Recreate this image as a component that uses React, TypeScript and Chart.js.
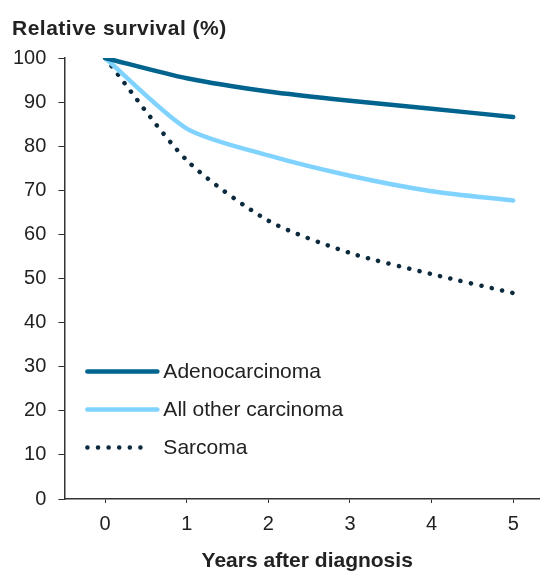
import React, { useEffect, useRef } from "react";
import { Chart, registerables } from "chart.js";

Chart.register(...registerables);

const years = ["0", "1", "2", "3", "4", "5"];
const adenocarcinoma = [100, 95.4, 92.4, 90.3, 88.5, 86.6];
const allOtherCarcinoma = [100, 84.0, 77.9, 73.3, 69.8, 67.7];
const sarcoma = [100, 76.8, 63.1, 55.8, 51.0, 46.7];
const seriesNames = ["Adenocarcinoma", "All other carcinoma", "Sarcoma"];
const yTitle = "Relative survival (%)";
const xTitle = "Years after diagnosis";

const FONT = "Arial, 'Liberation Sans', sans-serif";
const C_ADENO = "#00648f";
const C_OTHER = "#80d2ff";
const C_SARC = "#0c2a3e";
const TEXT = "#222222";
const AXIS = "#333333";

const extrasPlugin = {
  id: "extras",
  afterDraw(chart: any) {
    const { ctx, chartArea } = chart;
    ctx.save();
    ctx.fillStyle = TEXT;
    ctx.textBaseline = "middle";
    // y title
    ctx.font = `bold 21px ${FONT}`;
    ctx.textAlign = "left";
    try { (ctx as any).letterSpacing = "0.5px"; } catch (e) {}
    ctx.fillText(yTitle, 12, 29);
    try { (ctx as any).letterSpacing = "0px"; } catch (e) {}
    // x title
    ctx.textAlign = "center";
    ctx.fillText(xTitle, (chartArea.left + chartArea.right) / 2 - 2, 561);

    // legend
    const x0 = chartArea.left + 23;
    const x1 = chartArea.left + 93;
    const rows = [chartArea.top + 313.5, chartArea.top + 351.5, chartArea.top + 389.5];
    const colors = [C_ADENO, C_OTHER, C_SARC];
    ctx.lineWidth = 4.5;
    ctx.lineCap = "round";
    for (let i = 0; i < 3; i++) {
      ctx.strokeStyle = colors[i];
      ctx.beginPath();
      if (i === 2) {
        ctx.setLineDash([0.1, 10.5]);
        ctx.moveTo(x0, rows[i]);
        ctx.lineTo(x1 - 8, rows[i]);
      } else {
        ctx.setLineDash([]);
        ctx.moveTo(x0, rows[i]);
        ctx.lineTo(x1, rows[i]);
      }
      ctx.stroke();
      ctx.fillStyle = TEXT;
      ctx.font = `21px ${FONT}`;
      ctx.textAlign = "left";
      ctx.textBaseline = "middle";
      ctx.fillText(seriesNames[i], x1 + 6, rows[i] + 1);
    }
    ctx.restore();
  },
};

export default function App() {
  const ref = useRef<HTMLCanvasElement>(null);
  useEffect(() => {
    if (!ref.current) return;
    const chart = new Chart(ref.current, {
      type: "line",
      data: {
        labels: years,
        datasets: [
          {
            label: seriesNames[0],
            data: adenocarcinoma,
            borderColor: C_ADENO,
            borderWidth: 4.5,
            pointRadius: 0,
            tension: 0.25,
            borderCapStyle: "round",
          },
          {
            label: seriesNames[1],
            data: allOtherCarcinoma,
            borderColor: C_OTHER,
            borderWidth: 4.5,
            pointRadius: 0,
            tension: 0.25,
            borderCapStyle: "round",
          },
          {
            label: seriesNames[2],
            data: sarcoma,
            borderColor: C_SARC,
            borderWidth: 4.5,
            pointRadius: 0,
            tension: 0.25,
            borderCapStyle: "round",
            borderDash: [0.1, 10.5],
          },
        ],
      },
      options: {
        animation: false,
        responsive: false,
        maintainAspectRatio: false,
        layout: { padding: { left: 1, top: 58, right: 2, bottom: 27 } },
        plugins: { legend: { display: false }, tooltip: { enabled: false } },
        scales: {
          x: {
            offset: true,
            grid: {
              drawOnChartArea: false,
              drawTicks: true,
              tickLength: 4,
              color: AXIS,
              offset: false,
            },
            border: { display: true, color: AXIS, width: 1.5 },
            ticks: {
              color: TEXT,
              font: { family: FONT, size: 20 },
              padding: 9,
              maxRotation: 0,
            },
          },
          y: {
            min: 0,
            max: 100,
            grid: {
              drawOnChartArea: false,
              drawTicks: true,
              tickLength: 6,
              color: AXIS,
            },
            border: { display: true, color: AXIS, width: 1.5 },
            ticks: {
              stepSize: 10,
              color: TEXT,
              font: { family: FONT, size: 20 },
              padding: 12,
            },
          },
        },
      },
      plugins: [extrasPlugin],
    });
    return () => chart.destroy();
  }, []);
  return (
    <div
      style={{
        position: "fixed",
        left: 0,
        top: 0,
        width: 540,
        height: 572,
        overflow: "hidden",
        background: "#fff",
      }}
    >
      <canvas ref={ref} width={556} height={572} style={{ width: 556, height: 572 }} />
    </div>
  );
}
